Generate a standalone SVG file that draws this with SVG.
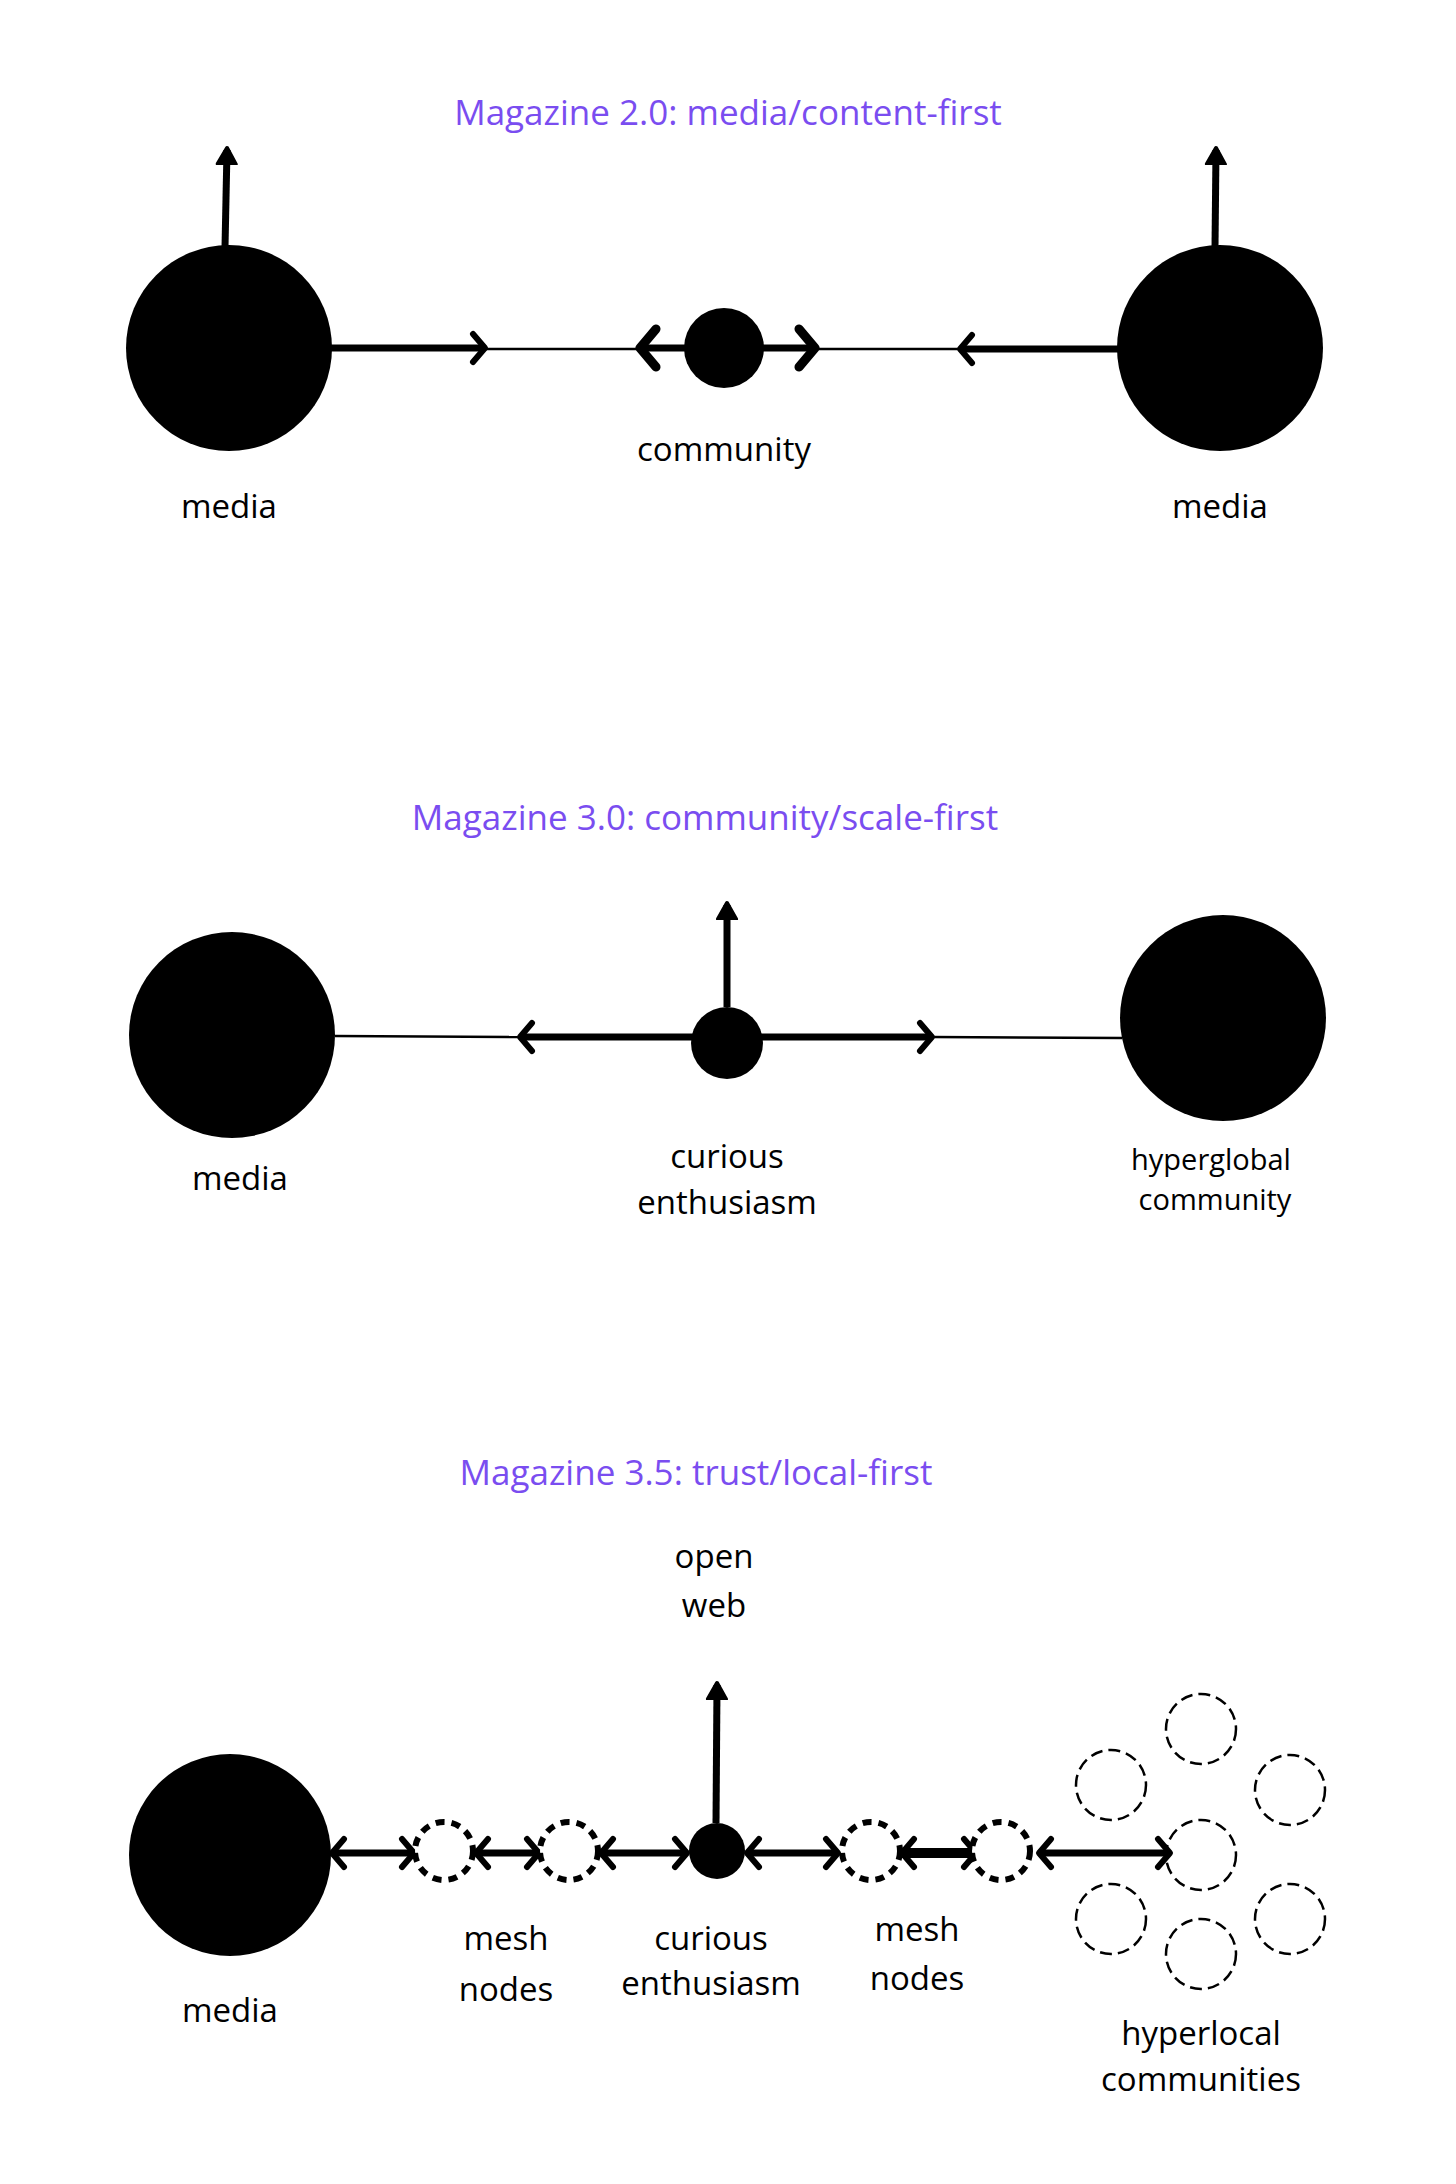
<svg xmlns="http://www.w3.org/2000/svg" width="1456" height="2184" viewBox="0 0 1456 2184">
<style>
text{font-family:"Open Sans","Noto Sans",sans-serif;font-size:33px;fill:#000;text-anchor:middle}
.title{fill:#7a4df0;font-size:35px}
.small{font-size:29px}
.thick{stroke:#000;stroke-width:7;fill:none}
.thin{stroke:#000;stroke-width:2.5;fill:none}
.mesh{fill:#fff;stroke:#000;stroke-width:6;stroke-dasharray:9 7}
.hl{fill:none;stroke:#000;stroke-width:2.5;stroke-dasharray:12 6}
</style>
<defs>
<marker id="chev" markerUnits="userSpaceOnUse" viewBox="-20 -20 40 40" markerWidth="40" markerHeight="40" refX="0" refY="0" orient="auto-start-reverse">
<polyline points="-12,-14 0,0 -12,14" fill="none" stroke="#000" stroke-width="6" stroke-linecap="round" stroke-linejoin="round"/>
</marker>
<marker id="bigchev" markerUnits="userSpaceOnUse" viewBox="-25 -25 50 50" markerWidth="50" markerHeight="50" refX="0" refY="0" orient="auto-start-reverse">
<polyline points="-16,-19 0,0 -16,19" fill="none" stroke="#000" stroke-width="9" stroke-linecap="round" stroke-linejoin="round"/>
</marker>
<marker id="tri" markerUnits="userSpaceOnUse" viewBox="-15 -15 30 30" markerWidth="30" markerHeight="30" refX="0" refY="0" orient="auto">
<path d="M-14,-9 L2,0 L-14,9 Z" fill="#000" stroke="#000" stroke-width="4" stroke-linejoin="round"/>
</marker>
</defs>

<g id="connectors">
<!-- section 1 -->
<line class="thick" x1="225" y1="247" x2="227" y2="150" marker-end="url(#tri)"/>
<line class="thick" x1="1215" y1="247" x2="1216" y2="150" marker-end="url(#tri)"/>
<line class="thick" x1="330" y1="348" x2="485" y2="348" marker-end="url(#chev)"/>
<line class="thin" x1="485" y1="349" x2="640" y2="349"/>
<line class="thick" x1="640" y1="348" x2="815" y2="348" marker-start="url(#bigchev)" marker-end="url(#bigchev)"/>
<line class="thin" x1="815" y1="349" x2="960" y2="349"/>
<line class="thick" x1="1120" y1="349" x2="960" y2="349" marker-end="url(#chev)"/>
<!-- section 2 -->
<line class="thick" x1="727" y1="1007" x2="727" y2="905" marker-end="url(#tri)"/>
<line class="thin" x1="335" y1="1036" x2="520" y2="1037"/>
<line class="thick" x1="695" y1="1037" x2="520" y2="1037" marker-end="url(#chev)"/>
<line class="thick" x1="760" y1="1037" x2="932" y2="1037" marker-end="url(#chev)"/>
<line class="thin" x1="932" y1="1037" x2="1122" y2="1038"/>
<!-- section 3 -->
<line class="thick" x1="716" y1="1823" x2="717" y2="1685" marker-end="url(#tri)"/>
<line class="thick" x1="332" y1="1853" x2="414" y2="1853" marker-start="url(#chev)" marker-end="url(#chev)"/>
<line class="thick" x1="476" y1="1853" x2="539" y2="1853" marker-start="url(#chev)" marker-end="url(#chev)"/>
<line class="thick" x1="601" y1="1853" x2="687" y2="1853" marker-start="url(#chev)" marker-end="url(#chev)"/>
<line class="thick" x1="747" y1="1853" x2="838" y2="1853" marker-start="url(#chev)" marker-end="url(#chev)"/>
<line stroke="#000" stroke-width="10" x1="902" y1="1853" x2="976" y2="1853" marker-start="url(#chev)" marker-end="url(#chev)"/>
<line class="thick" x1="1039" y1="1853" x2="1170" y2="1853" marker-start="url(#chev)" marker-end="url(#chev)"/>
</g>

<g id="titles">
<text class="title" x="728" y="125">Magazine 2.0: media/content-first</text>
<text class="title" x="705" y="830">Magazine 3.0: community/scale-first</text>
<text class="title" x="696" y="1485">Magazine 3.5: trust/local-first</text>
</g>

<g id="s1-media-left"><circle cx="229" cy="348" r="103"/><text x="229" y="518">media</text></g>
<g id="s1-media-right"><circle cx="1220" cy="348" r="103"/><text x="1220" y="518">media</text></g>
<g id="s1-community"><circle cx="724" cy="348" r="40"/><text x="724" y="461">community</text></g>

<g id="s2-media"><circle cx="232" cy="1035" r="103"/><text x="240" y="1190">media</text></g>
<g id="s2-hyperglobal"><circle cx="1223" cy="1018" r="103"/><text class="small" x="1211" y="1170">hyperglobal</text><text class="small" x="1215" y="1210">community</text></g>
<g id="s2-curious"><circle cx="727" cy="1043" r="36"/><text x="727" y="1168">curious</text><text x="727" y="1214">enthusiasm</text></g>

<g id="s3-openweb"><text x="714" y="1568">open</text><text x="714" y="1617">web</text></g>
<g id="s3-media"><circle cx="230" cy="1855" r="101"/><text x="230" y="2022">media</text></g>
<g id="s3-curious"><circle cx="717" cy="1851" r="28"/><text x="711" y="1950">curious</text><text x="711" y="1995">enthusiasm</text></g>
<g id="s3-mesh-left"><circle class="mesh" cx="444" cy="1851" r="29"/><circle class="mesh" cx="569" cy="1851" r="29"/><text x="506" y="1950">mesh</text><text x="506" y="2001">nodes</text></g>
<g id="s3-mesh-right"><circle class="mesh" cx="871" cy="1851" r="29"/><circle class="mesh" cx="1001" cy="1851" r="29"/><text x="917" y="1941">mesh</text><text x="917" y="1990">nodes</text></g>
<g id="s3-hyperlocal">
<circle class="hl" cx="1201" cy="1729" r="35"/>
<circle class="hl" cx="1111" cy="1785" r="35"/>
<circle class="hl" cx="1290" cy="1790" r="35"/>
<circle class="hl" cx="1201" cy="1855" r="35"/>
<circle class="hl" cx="1111" cy="1919" r="35"/>
<circle class="hl" cx="1290" cy="1919" r="35"/>
<circle class="hl" cx="1201" cy="1954" r="35"/>
<text x="1201" y="2045">hyperlocal</text><text x="1201" y="2091">communities</text>
</g>
</svg>
